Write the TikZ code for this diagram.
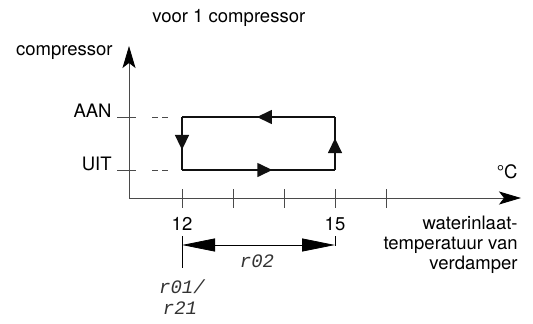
\documentclass[tikz,border=0pt]{standalone}
\usepackage{fontspec}
\setmainfont{TeX Gyre Heros}
\setmonofont{Liberation Mono}
\usetikzlibrary{arrows.meta,decorations.markings}
\definecolor{axisline}{HTML}{4A4A4A}
\definecolor{loopline}{HTML}{111111}
\definecolor{segink}{HTML}{333333}
\tikzset{
 loopedge/.style={draw=loopline,line width=1.6pt,postaction={decorate},
  decoration={markings,mark=at position #1 with {\arrow{Triangle[length=15pt,width=14pt]}}}},
 axistip/.style={-{Stealth[length=22pt,width=13pt,inset=5pt,color=black]}},
 segtext/.style={font=\fontsize{19}{19}\selectfont\ttfamily\itshape,text=segink,inner sep=0pt},
 labtext/.style={inner sep=0pt}
}

\begin{document}
\begin{tikzpicture}[font=\fontsize{18.5}{20}\selectfont,line width=.8pt,x=1pt,y=-1pt]
\useasboundingbox (0,0) rectangle (533,324);
% axes
\coordinate (origin) at (129,198);
\coordinate (ytop) at (129,46);
\coordinate (xend) at (521,198);
\draw[axisline,axistip] (origin) -- (ytop);
\draw[axisline,axistip] (origin) -- (xend);
\foreach \tx in {182,233,284,335,386}
 \draw[axisline] (\tx,189) -- (\tx,208);
% on/off levels
\foreach \ty/\lab/\nm in {117/AAN/aan,170/UIT/uit} {
 \draw[axisline] (117,\ty) -- (136,\ty);
 \draw[axisline,dash pattern=on 6pt off 4pt] (152,\ty) -- (168,\ty);
 \node[labtext,anchor=base east] (\nm) at (112,\ty) {\lab};
}
% hysteresis loop
\coordinate (ul) at (182,117);
\coordinate (ur) at (335,117);
\coordinate (ll) at (182,170);
\coordinate (lr) at (335,170);
\draw[loopedge=.51] (ur) -- (ul);
\draw[loopedge=.62] (ul) -- (ll);
\draw[loopedge=.59] (ll) -- (lr);
\draw[loopedge=.60] (lr) -- (ur);
% texts
\node[labtext,anchor=base west] (title) at (152,23) {voor 1 compressor};
\node[labtext,anchor=base east] (ylab) at (113,55) {compressor};
\node[labtext,anchor=base east] (unit) at (518,178) {°C};
\node[labtext,anchor=north east,align=right] (xlab) at (518,216)
 {waterinlaat-\\temperatuur van\\verdamper};
\node[labtext,anchor=base] (t12) at (182,230) {12};
\node[labtext,anchor=base] (t15) at (335,230) {15};
% differential
\coordinate (d12) at (182,245);
\coordinate (d15) at (335,245);
\draw (182,236) -- (182,268);
\draw (335,236) -- (335,246);
\draw[{Triangle[length=33pt,width=13pt]}-{Triangle[length=33pt,width=13pt]}] (d12) -- (d15);
\node[segtext] (r02) at (257,261) {r02};
\node[segtext] (r01) at (182,287) {r01/};
\node[segtext] (r21) at (180,308) {r21};
\end{tikzpicture}
\end{document}
